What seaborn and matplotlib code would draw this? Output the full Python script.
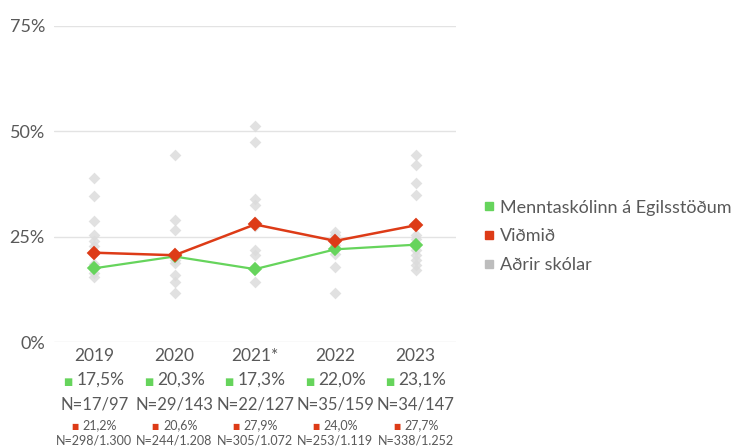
# -*- coding: utf-8 -*-

import matplotlib
matplotlib.use("Agg")
import matplotlib.pyplot as plt
from matplotlib.lines import Line2D
from matplotlib.offsetbox import TextArea, HPacker, AnnotationBbox
import numpy as np
import pandas as pd
import seaborn as sns

# Data
years = ["2019", "2020", "2021*", "2022", "2023"]
school = [17.5, 20.3, 17.3, 22.0, 23.1]
school_n = ["N=17/97", "N=29/143", "N=22/127", "N=35/159", "N=34/147"]
bench = [21.2, 20.6, 27.9, 24.0, 27.7]
bench_n = ["N=298/1.300", "N=244/1.208", "N=305/1.072", "N=253/1.119", "N=338/1.252"]
others = {
	"2019": [39.0, 34.7, 28.8, 25.5, 24.0, 22.8, 18.5, 16.5, 15.5],
	"2020": [44.3, 28.9, 26.7, 19.5, 18.8, 16.0, 14.3, 11.7],
	"2021*": [51.2, 47.4, 34.0, 32.5, 28.5, 27.5, 21.8, 20.6, 14.3],
	"2022": [26.0, 25.3, 23.0, 21.0, 17.8, 11.7],
	"2023": [44.3, 41.9, 37.7, 34.8, 25.4, 24.5, 21.8, 20.6, 19.4, 18.2, 17.0],
}
series_names = ["Menntaskólinn á Egilsstöðum", "Viðmið", "Aðrir skólar"]

# Colors
green = "#66d45c"
red = "#dd3b17"
grey = "#bdbdbd"
dots = "#dcdcdc"
txt = "#595959"

# Frames
df_main = pd.DataFrame({"year": years * 2,
	"value": school + bench,
	"series": [series_names[0]] * 5 + [series_names[1]] * 5})
df_other = pd.DataFrame([(y, v) for y in years for v in others[y]], columns=["year", "value"])

sns.set_style("white")
plt.rcParams["font.family"] = ["Lato", "DejaVu Sans"]

fig = plt.figure(figsize=(7.39, 4.46), dpi=100)
ax = fig.add_axes([0.073, 0.233, 0.544, 0.709])

sns.stripplot(data=df_other, x="year", y="value", order=years, jitter=False,
	marker="D", size=6, color=dots, alpha=0.85, linewidth=0, ax=ax, zorder=2)
sns.pointplot(data=df_main[df_main.series == series_names[0]], x="year", y="value",
	order=years, color=green, markers="D", markersize=6, linewidth=1.6, ax=ax, zorder=4)
sns.pointplot(data=df_main[df_main.series == series_names[1]], x="year", y="value",
	order=years, color=red, markers="D", markersize=6, linewidth=1.8, ax=ax, zorder=5)

ax.set_xlim(-0.5, 4.5)
ax.set_ylim(0, 75)
ax.set_yticks([0, 25, 50, 75])
ax.set_yticklabels(["0%", "25%", "50%", "75%"])
ax.grid(axis="y", color="#e3e3e3", linewidth=1)
ax.set_axisbelow(True)
for s in ax.spines.values():
	s.set_visible(False)
ax.set_xlabel("")
ax.set_ylabel("")
ax.tick_params(axis="both", length=0, labelsize=12.5, labelcolor=txt)
ax.tick_params(axis="x", pad=4)
ax.tick_params(axis="y", pad=6.5, labelsize=13)

# Texts below categories
sq_font = ["DejaVu Sans"]
for i in range(len(years)):
	pk = HPacker(children=[
		TextArea("■", textprops=dict(color=green, fontsize=7, family=sq_font)),
		TextArea(f"{school[i]:.1f}%".replace(".", ","), textprops=dict(color=txt, fontsize=12.5))],
		align="baseline", pad=0, sep=3)
	ab = AnnotationBbox(pk, (i, -0.12), xycoords=("data", "axes fraction"),
		frameon=False, box_alignment=(0.5, 0.5), annotation_clip=False)
	ax.add_artist(ab)
	ax.text(i, -0.197, school_n[i], transform=ax.get_xaxis_transform(),
		ha="center", va="center", fontsize=12, color=txt)
	pk2 = HPacker(children=[
		TextArea("■", textprops=dict(color=red, fontsize=5.5, family=sq_font)),
		TextArea(f"{bench[i]:.1f}%".replace(".", ","), textprops=dict(color=txt, fontsize=9))],
		align="baseline", pad=0, sep=3)
	ab2 = AnnotationBbox(pk2, (i, -0.262), xycoords=("data", "axes fraction"),
		frameon=False, box_alignment=(0.5, 0.5), annotation_clip=False)
	ax.add_artist(ab2)
	ax.text(i, -0.31, bench_n[i], transform=ax.get_xaxis_transform(),
		ha="center", va="center", fontsize=9, color=txt)

# Legend
handles = [Line2D([], [], marker="s", linestyle="", markersize=6, color=c)
	for c in [green, red, grey]]
leg = fig.legend(handles, series_names, loc="center left", bbox_to_anchor=(0.632, 0.47),
	frameon=False, fontsize=13, handlelength=0.6, handletextpad=0.3, labelspacing=0.7)
for t in leg.get_texts():
	t.set_color(txt)

plt.savefig("out.png", dpi=100)
plt.close("all")
